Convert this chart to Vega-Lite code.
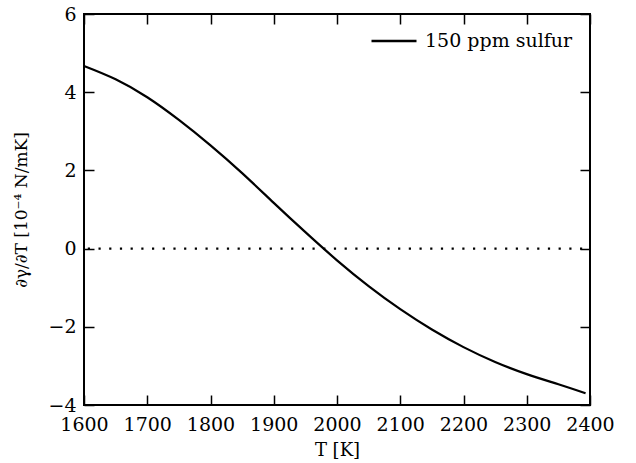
{
  "$schema": "https://vega.github.io/schema/vega-lite/v6.json",
  "width": 506,
  "height": 391,
  "autosize": {"type": "none"},
  "padding": {"left": 84, "top": 14, "right": 46, "bottom": 58},
  "background": "white",
  "config": {
    "font": "DejaVu Serif",
    "view": {"stroke": "black", "strokeWidth": 2},
    "axis": {
      "domain": false,
      "grid": false,
      "ticks": true,
      "tickColor": "black",
      "tickSize": -10,
      "tickWidth": 1.5,
      "labelFont": "DejaVu Serif",
      "labelFontSize": 19,
      "labelColor": "black",
      "titleFont": "DejaVu Serif",
      "titleFontWeight": "normal",
      "titleColor": "black",
      "labelFlush": false,
      "labelOverlap": false
    }
  },
  "datasets": {
    "curve": [
      {"T": 1600, "v": 4.67},
      {"T": 1650, "v": 4.33},
      {"T": 1700, "v": 3.87},
      {"T": 1750, "v": 3.29},
      {"T": 1800, "v": 2.64},
      {"T": 1850, "v": 1.93},
      {"T": 1900, "v": 1.17},
      {"T": 1950, "v": 0.42},
      {"T": 2000, "v": -0.3},
      {"T": 2050, "v": -0.96},
      {"T": 2100, "v": -1.55},
      {"T": 2150, "v": -2.07},
      {"T": 2200, "v": -2.52},
      {"T": 2250, "v": -2.9},
      {"T": 2300, "v": -3.21},
      {"T": 2350, "v": -3.47},
      {"T": 2393, "v": -3.7}
    ],
    "zero": [
      {"T": 1606, "v": 0},
      {"T": 2392, "v": 0}
    ]
  },
  "layer": [
    {
      "data": {"name": "zero"},
      "mark": {"type": "line", "color": "black", "strokeWidth": 2.2, "strokeDash": [2.2, 8.5]},
      "encoding": {
        "x": {"field": "T", "type": "quantitative", "scale": {"domain": [1600, 2400], "nice": false, "zero": false},
              "axis": {"orient": "top", "labels": false, "title": null, "values": [1600,1700,1800,1900,2000,2100,2200,2300,2400]}},
        "y": {"field": "v", "type": "quantitative", "scale": {"domain": [-4, 6], "nice": false, "zero": false},
              "axis": {"orient": "right", "labels": false, "title": null, "values": [-4,-2,0,2,4,6]}}
      }
    },
    {
      "data": {"name": "curve"},
      "mark": {"type": "line", "strokeWidth": 2.2, "interpolate": "natural"},
      "encoding": {
        "x": {"field": "T", "type": "quantitative", "scale": {"domain": [1600, 2400], "nice": false, "zero": false},
              "axis": {"orient": "bottom", "title": "T [K]", "titleFontSize": 18, "titlePadding": 7, "labelPadding": 20, "format": "d",
                       "values": [1600,1700,1800,1900,2000,2100,2200,2300,2400]}},
        "y": {"field": "v", "type": "quantitative", "scale": {"domain": [-4, 6], "nice": false, "zero": false},
              "axis": {"orient": "left", "title": "∂γ/∂T [10⁻⁴ N/mK]", "titleFontSize": 17, "titlePadding": 17, "labelPadding": 18,
                       "values": [-4,-2,0,2,4,6]}},
        "color": {"datum": "150 ppm sulfur", "type": "nominal",
                  "scale": {"range": ["black"]},
                  "legend": {"title": null, "orient": "none", "legendX": 286, "legendY": 3, "symbolType": "stroke", "symbolSize": 2025, "symbolStrokeWidth": 2.5,
                             "labelFont": "DejaVu Serif", "labelFontSize": 19, "labelColor": "black", "labelOffset": 7}}
      }
    }
  ],
  "resolve": {"axis": {"x": "independent", "y": "independent"}}
}
